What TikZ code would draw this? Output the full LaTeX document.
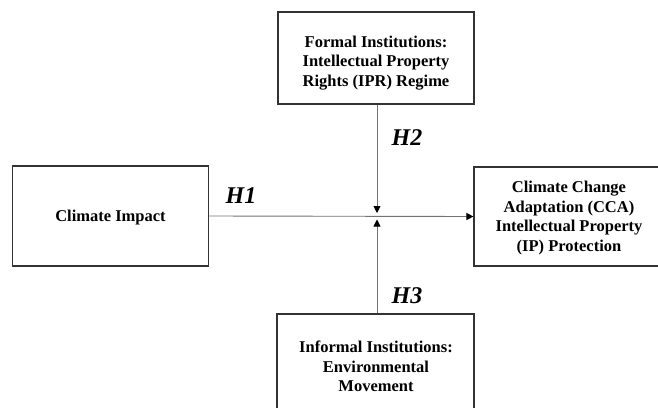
\documentclass[tikz,border=0pt]{standalone}
\usepackage{fontspec}
\setmainfont{Liberation Serif}
\usetikzlibrary{arrows.meta}
\begin{document}
\begin{tikzpicture}[x=1pt,y=-1pt,
  boxstyle/.style={draw=black!80,line width=1.2pt,inner sep=0pt,align=center,font=\bfseries\fontsize{16.5}{19.5}\selectfont},
  txt/.style={align=center,inner sep=0pt,font=\bfseries\fontsize{16.5}{19.5}\selectfont},
  link/.style={draw=black!55,line width=0.9pt,-{Triangle[length=7pt,width=7pt,color=black]}},
  hyp/.style={font=\bfseries\itshape\fontsize{24}{26}\selectfont}]
\useasboundingbox (0,0) rectangle (658,407);
\begin{scope}
\clip (0,0) rectangle (658,407);
\node[boxstyle,minimum width=196pt,minimum height=100pt] (ci) at (110.5,216) {};
\node[txt] (cit) at (110.5,217.5) {Climate Impact};
\node[boxstyle,minimum width=196pt,minimum height=92pt] (fi) at (376,58) {};
\node[txt] (fit) at (376,63) {Formal Institutions:\\Intellectual Property\\Rights (IPR) Regime};
\node[boxstyle,minimum width=190pt,minimum height=99pt] (cca) at (569,216.5) {};
\node[txt] (ccat) at (569,218) {Climate Change\\Adaptation (CCA)\\Intellectual Property\\(IP) Protection};
\node[boxstyle,minimum width=197pt,minimum height=110pt] (ii) at (375.5,369) {};
\node[txt] (iit) at (376,366.5) {Informal Institutions:\\Environmental\\Movement};
\end{scope}
\coordinate (c) at (377,216);
\coordinate (cd) at (377,213);
\coordinate (cu) at (377,219.5);
\draw[link] (ci.east) -- (cca.west);
\draw[link] (fi.south -| c) -- (cd);
\draw[link] (ii.north -| c) -- (cu);
\node[hyp] (h1) at (241,196) {H1};
\node[hyp] (h2) at (407,138) {H2};
\node[hyp] (h3) at (407,296) {H3};
\end{tikzpicture}
\end{document}
